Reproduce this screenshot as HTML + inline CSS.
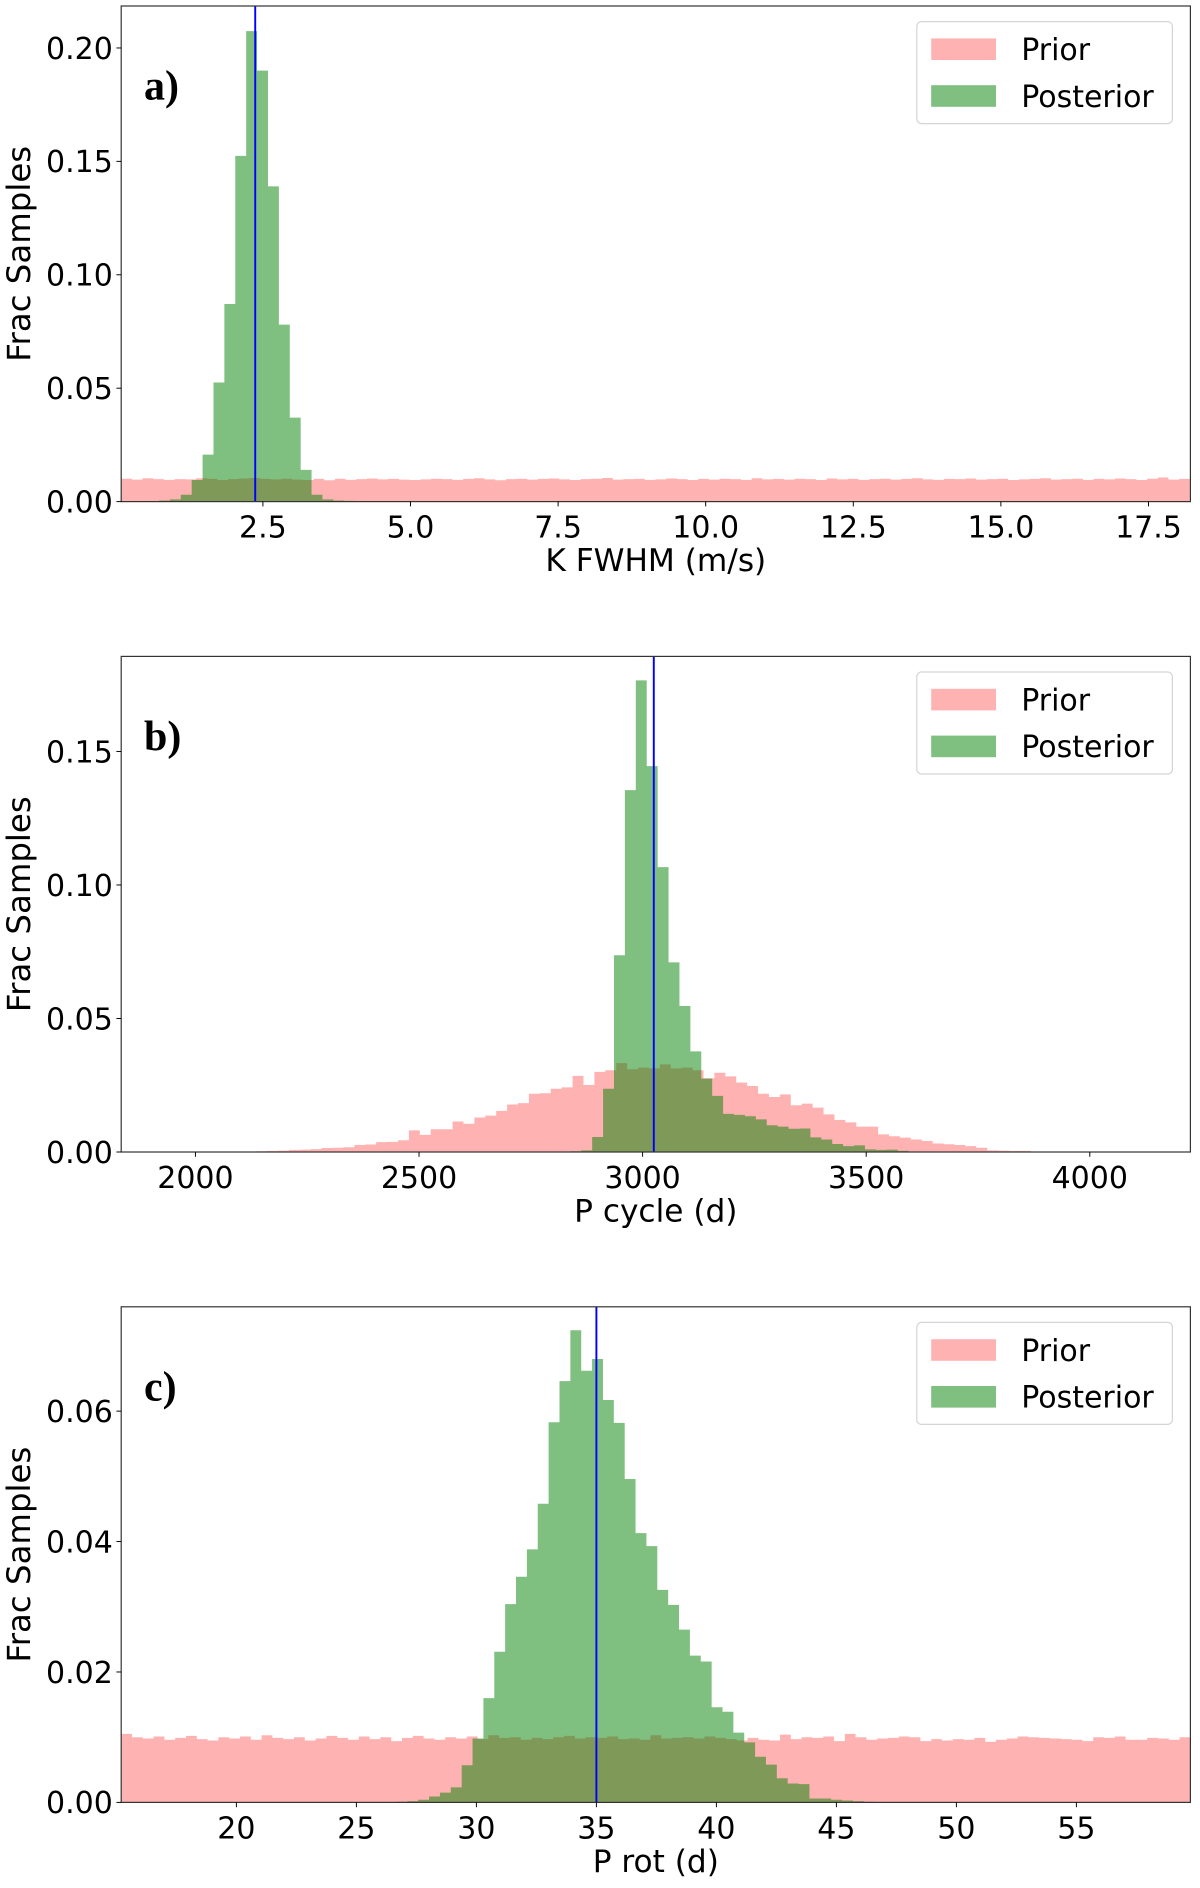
<!DOCTYPE html>
<html><head><meta charset="utf-8">
<style>
html,body{margin:0;padding:0;background:#fff;}
svg{display:block;}
text{font-family:"DejaVu Sans","Liberation Sans",sans-serif;fill:#000;}
.lbl{font-family:"Liberation Serif",serif;font-weight:bold;}
</style></head>
<body>
<svg id="fig" xmlns="http://www.w3.org/2000/svg" width="1200" height="1888" viewBox="0 0 1000 1573.33"></svg>
<script>
// ---- Panel a data ----
const aPriorStart = 0.1, aPriorWidth = 0.181;
const aPrior = [0.0101,0.0097,0.0103,0.0099,0.0096,0.0099,0.0098,0.0103,0.0100,0.0095,
0.0099,0.0102,0.0104,0.0100,0.0098,0.0101,0.0097,0.0095,0.0100,0.0094,
0.0101,0.0096,0.0099,0.0102,0.0098,0.0100,0.0097,0.0095,0.0098,0.0101,
0.0099,0.0096,0.0100,0.0103,0.0098,0.0094,0.0099,0.0101,0.0097,0.0100,
0.0102,0.0098,0.0095,0.0099,0.0101,0.0104,0.0097,0.0099,0.0100,0.0096,
0.0098,0.0102,0.0099,0.0095,0.0100,0.0097,0.0101,0.0099,0.0096,0.0103,
0.0098,0.0100,0.0097,0.0101,0.0099,0.0095,0.0102,0.0098,0.0100,0.0096,
0.0099,0.0101,0.0097,0.0100,0.0103,0.0098,0.0096,0.0100,0.0099,0.0102,
0.0097,0.0099,0.0101,0.0095,0.0098,0.0100,0.0103,0.0097,0.0099,0.0101,
0.0096,0.0100,0.0098,0.0102,0.0099,0.0095,0.0101,0.0106,0.0097,0.0100];
const aPostStart = 0.74, aPostWidth = 0.1846;
const aPost = [0.0005,0.001,0.003,0.0095,0.0207,0.0525,0.0871,0.1524,0.2074,0.190,0.139,0.078,0.037,0.014,0.003,0.001,0.0005,0.0003];
const aTruth = 2.37;
const aXTicks = [2.5,5.0,7.5,10.0,12.5,15.0,17.5];
const aXTickLabels = ["2.5","5.0","7.5","10.0","12.5","15.0","17.5"];
const aYTicks = [0,0.05,0.10,0.15,0.20];
const aYTickLabels = ["0.00","0.05","0.10","0.15","0.20"];

// ---- Panel b data ----
const bPriorStart = 2087, bPriorWidth = 24.4;
const bPrior = [0.0002,0.0002,0.0003,0.0004,0.0005,0.0008,0.0009,0.0011,0.0015,0.0016,
0.0018,0.0026,0.0028,0.0037,0.0038,0.0044,0.0081,0.0064,0.0085,0.0085,
0.0114,0.0106,0.0129,0.0136,0.0154,0.0178,0.0183,0.0218,0.0220,0.0237,
0.0242,0.0285,0.0251,0.0300,0.0306,0.0333,0.0310,0.0316,0.0313,0.0328,
0.0313,0.0316,0.0306,0.0276,0.0297,0.0283,0.0260,0.0247,0.0218,0.0206,
0.0216,0.0175,0.0181,0.0166,0.0141,0.0120,0.0111,0.0095,0.0095,0.0066,
0.0059,0.0054,0.0047,0.0041,0.0032,0.0029,0.0026,0.0022,0.0016,0.0006,
0.0005,0.0004,0.0004,0.0002,0.0001,0.0001,0.0001];
const bPostStart = 2814, bPostWidth = 24.4;
const bPost = [0.0001,0.0003,0.0006,0.0056,0.0237,0.0737,0.1355,0.1766,0.1445,0.1067,
0.0710,0.0547,0.0377,0.0275,0.0210,0.0143,0.0139,0.0134,0.0122,0.0100,
0.0095,0.0087,0.0088,0.0055,0.0047,0.0030,0.0022,0.0025,0.0010,0.0008,
0.0009,0.0004,0.0002,0.0002];
const bTruth = 3025;
const bXTicks = [2000,2500,3000,3500,4000];
const bXTickLabels = ["2000","2500","3000","3500","4000"];
const bYTicks = [0,0.05,0.10,0.15];
const bYTickLabels = ["0.00","0.05","0.10","0.15"];

// ---- Panel c data ----
const cPriorStart = 15.2, cPriorWidth = 0.45;
const cPrior = [0.0105,0.0100,0.0098,0.0101,0.0096,0.0099,0.0102,0.0097,0.0095,0.0100,
0.0098,0.0101,0.0096,0.0103,0.0099,0.0097,0.0100,0.0095,0.0098,0.0102,
0.0099,0.0096,0.0101,0.0097,0.0100,0.0094,0.0099,0.0102,0.0098,0.0096,
0.0100,0.0098,0.0101,0.0097,0.0103,0.0099,0.0100,0.0096,0.0099,0.0097,
0.0100,0.0102,0.0098,0.0100,0.0099,0.0101,0.0097,0.0098,0.0096,0.0103,
0.0098,0.0099,0.0100,0.0098,0.0101,0.0099,0.0097,0.0095,0.0099,0.0096,
0.0095,0.0104,0.0097,0.0100,0.0099,0.0101,0.0094,0.0105,0.0100,0.0096,
0.0098,0.0099,0.0101,0.0100,0.0094,0.0097,0.0095,0.0097,0.0096,0.0099,
0.0093,0.0096,0.0098,0.0101,0.0100,0.0099,0.0098,0.0097,0.0096,0.0094,
0.0100,0.0099,0.0101,0.0096,0.0096,0.0099,0.0098,0.0096,0.0100];
const cPostStart = 26.67, cPostWidth = 0.4528;
const cPost = [0.0001,0.0002,0.0004,0.0009,0.0015,0.0023,0.0057,0.0098,0.0160,0.0231,
0.0304,0.0346,0.0388,0.0458,0.0583,0.0646,0.0724,0.0662,0.0680,0.0617,
0.0582,0.0496,0.0413,0.0393,0.0326,0.0303,0.0265,0.0225,0.0216,0.0146,
0.0139,0.0107,0.0092,0.0070,0.0058,0.0037,0.0029,0.0028,0.0006,0.0006,
0.0004,0.0003,0.0002,0.0001];
const cTruth = 35.0;
const cXTicks = [20,25,30,35,40,45,50,55];
const cXTickLabels = ["20","25","30","35","40","45","50","55"];
const cYTicks = [0,0.02,0.04,0.06];
const cYTickLabels = ["0.00","0.02","0.04","0.06"];

const NS = "http://www.w3.org/2000/svg";
const fig = document.getElementById('fig');
function mk(tag, attrs, parent){
  const e = document.createElementNS(NS, tag);
  for (const k in attrs) e.setAttribute(k, attrs[k]);
  (parent||fig).appendChild(e);
  return e;
}

function histPath(vals, start, width, xs, ys, B){
  let d = 'M' + xs(start) + ' ' + B;
  vals.forEach((v,i)=>{
    d += ' L' + xs(start + i*width) + ' ' + ys(v) + ' L' + xs(start + (i+1)*width) + ' ' + ys(v);
  });
  d += ' L' + xs(start + vals.length*width) + ' ' + B + ' Z';
  return d;
}

function panel(cfg){
  const L=101, R=992, T=cfg.top, B=cfg.top+413;
  const g = mk('g', {});
  
  
  const xs = v => L + (v - cfg.xmin) / (cfg.xmax - cfg.xmin) * (R - L);
  const ys = v => B - v / cfg.ymax * (B - T);
  const clip = mk('clipPath', {id: 'clip-' + cfg.name}, g);
  mk('rect', {x:L, y:T, width:R-L, height:B-T}, clip);
  const bars = mk('g', {'clip-path': 'url(#clip-' + cfg.name + ')'}, g);
  const pp = mk('path', {d: histPath(cfg.prior, cfg.priorStart, cfg.priorWidth, xs, ys, B), fill:'rgba(255,0,0,0.3)'}, bars);
  
  
  const po = mk('path', {d: histPath(cfg.post, cfg.postStart, cfg.postWidth, xs, ys, B), fill:'rgba(0,128,0,0.5)'}, bars);
  
  
  const tl = mk('line', {x1:xs(cfg.truth), x2:xs(cfg.truth), y1:T, y2:B, stroke:'#0000ff', 'stroke-width':1.6}, g);
  
  
  const fr = mk('rect', {x:L, y:T, width:R-L, height:B-T, fill:'none', stroke:'#333', 'stroke-width':1}, g);
  
  
  cfg.xTicks.forEach((v,i)=>{
    const x = xs(v);
    mk('line', {x1:x, x2:x, y1:B, y2:B+4, stroke:'#000', 'stroke-width':0.8}, g);
    const t = mk('text', {x:x, y:B+30, 'text-anchor':'middle', 'font-size':25}, g);
    t.textContent = cfg.xTickLabels[i];
    
    
  });
  cfg.yTicks.forEach((v,i)=>{
    const y = ys(v);
    mk('line', {x1:L-4, x2:L, y1:y, y2:y, stroke:'#000', 'stroke-width':0.8}, g);
    const t = mk('text', {x:L-7, y:y+9, 'text-anchor':'end', 'font-size':25}, g);
    t.textContent = cfg.yTickLabels[i];
    
    
  });
  const xl = mk('text', {x:(L+R)/2 + 0, y:B+58, 'text-anchor':'middle', 'font-size':26}, g);
  xl.textContent = cfg.xlabel;
  
  
  const cy = (T+B)/2;
  const yl = mk('text', {x:25, y:cy, 'text-anchor':'middle', 'font-size':27, transform:'rotate(-90 25 '+cy+')'}, g);
  yl.textContent = 'Frac Samples';
  
  
  const pl = mk('text', {x:120, y:T+78, 'font-size':35, class:'lbl'}, g);
  pl.textContent = cfg.label;
  
  
  const lg = mk('g', {}, g);
  
  
  mk('rect', {x:764, y:T+13, width:213, height:85, rx:4, fill:'#fff', 'fill-opacity':0.8, stroke:'#d5d5d5', 'stroke-width':1}, lg);
  const p1 = mk('rect', {x:776, y:T+27, width:54, height:18, fill:'rgba(255,0,0,0.3)'}, lg);
  
  
  const t1 = mk('text', {x:851, y:T+45, 'font-size':25}, lg);
  t1.textContent = 'Prior';
  
  
  const p2 = mk('rect', {x:776, y:T+66, width:54, height:18, fill:'rgba(0,128,0,0.5)'}, lg);
  
  
  const t2 = mk('text', {x:851, y:T+84, 'font-size':25}, lg);
  t2.textContent = 'Posterior';
  
  
}

panel({name:'a', top:5, xmin:0.1, xmax:18.21, ymax:0.2185, label:'a)', xlabel:'K FWHM (m/s)',
  prior:aPrior, priorStart:aPriorStart, priorWidth:aPriorWidth, post:aPost, postStart:aPostStart, postWidth:aPostWidth,
  truth:aTruth, xTicks:aXTicks, xTickLabels:aXTickLabels, yTicks:aYTicks, yTickLabels:aYTickLabels});
panel({name:'b', top:547, xmin:1834, xmax:4225, ymax:0.1856, label:'b)', xlabel:'P cycle (d)',
  prior:bPrior, priorStart:bPriorStart, priorWidth:bPriorWidth, post:bPost, postStart:bPostStart, postWidth:bPostWidth,
  truth:bTruth, xTicks:bXTicks, xTickLabels:bXTickLabels, yTicks:bYTicks, yTickLabels:bYTickLabels});
panel({name:'c', top:1089, xmin:15.2, xmax:59.75, ymax:0.076, label:'c)', xlabel:'P rot (d)',
  prior:cPrior, priorStart:cPriorStart, priorWidth:cPriorWidth, post:cPost, postStart:cPostStart, postWidth:cPostWidth,
  truth:cTruth, xTicks:cXTicks, xTickLabels:cXTickLabels, yTicks:cYTicks, yTickLabels:cYTickLabels});
</script>
</body></html>
